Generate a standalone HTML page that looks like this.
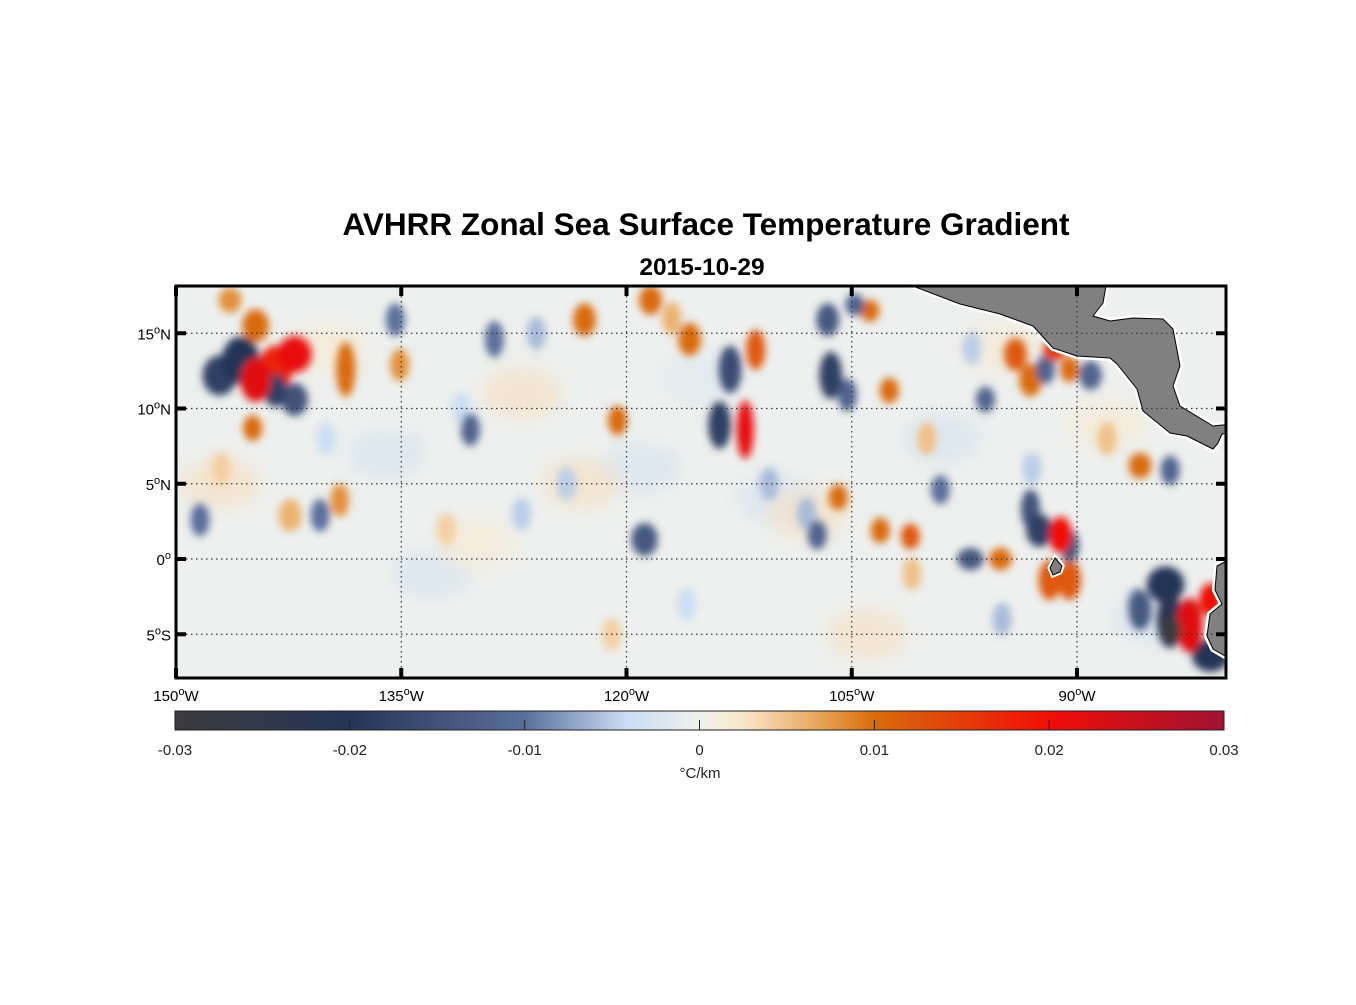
<!DOCTYPE html>
<html><head><meta charset="utf-8">
<style>
body{margin:0;background:#fff;}
svg text{font-family:"Liberation Sans",Arial,sans-serif;}
</style></head>
<body>
<svg id="fig" width="1356" height="1000" viewBox="0 0 1356 1000" xmlns="http://www.w3.org/2000/svg">
<defs>
<filter id="blur" x="-50%" y="-50%" width="200%" height="200%"><feGaussianBlur stdDeviation="4"/></filter>
<filter id="blur2" x="-50%" y="-50%" width="200%" height="200%"><feGaussianBlur stdDeviation="9"/></filter>
<clipPath id="mapclip"><rect x="176" y="286" width="1050" height="392"/></clipPath>
<linearGradient id="cbgrad" x1="0" x2="1" y1="0" y2="0">
<stop offset="0" stop-color="#3b3b3e"/>
<stop offset="0.1667" stop-color="#243556"/>
<stop offset="0.3333" stop-color="#5a6f9c"/>
<stop offset="0.43" stop-color="#c9ddf4"/>
<stop offset="0.5" stop-color="#eef1ec"/>
<stop offset="0.54" stop-color="#fbe7cc"/>
<stop offset="0.62" stop-color="#e5a050"/>
<stop offset="0.6667" stop-color="#d96b0c"/>
<stop offset="0.8333" stop-color="#f00e06"/>
<stop offset="1" stop-color="#a01232"/>
</linearGradient>
</defs>
<text x="706" y="235" text-anchor="middle" font-size="31.5" font-weight="bold">AVHRR Zonal Sea Surface Temperature Gradient</text>
<text x="702" y="275" text-anchor="middle" font-size="24.5" font-weight="bold">2015-10-29</text>
<g id="map" clip-path="url(#mapclip)">
<rect x="176" y="286" width="1050" height="392" fill="#edf0ee"/>
<g id="soft" filter="url(#blur2)"></g>
<g id="blobs" filter="url(#blur)"></g>
<g id="land">
<polygon fill="#808080" stroke="#fff" stroke-width="6" stroke-linejoin="round" points="897,280 1107,280 1103,303 1093,316 1110,321 1133,318 1163,319 1173,329 1180,366 1173,386 1180,406 1213,426 1232,424 1232,433 1222,434 1218,443 1213,449 1187,436 1170,433 1143,411 1137,389 1117,364 1110,358 1077,356 1053,348 1033,326 1000,314 960,304"/>
<polygon fill="#808080" stroke="#000" stroke-width="1" stroke-linejoin="round" points="897,280 1107,280 1103,303 1093,316 1110,321 1133,318 1163,319 1173,329 1180,366 1173,386 1180,406 1213,426 1232,424 1232,433 1222,434 1218,443 1213,449 1187,436 1170,433 1143,411 1137,389 1117,364 1110,358 1077,356 1053,348 1033,326 1000,314 960,304"/>
<polygon fill="#808080" stroke="#fff" stroke-width="6" stroke-linejoin="round" points="1232,558 1217,566 1215,590 1222,604 1210,614 1207,636 1213,649 1232,660"/>
<polygon fill="#808080" stroke="#000" stroke-width="1" points="1232,558 1217,566 1215,590 1222,604 1210,614 1207,636 1213,649 1232,660"/>
<polygon fill="#808080" stroke="#fff" stroke-width="5" points="1055,558 1062,566 1060,572 1053,575 1050,568"/>
<polygon fill="#808080" stroke="#000" stroke-width="1" points="1055,558 1062,566 1060,572 1053,575 1050,568"/>
</g>
<g id="grid" stroke="#333" stroke-width="1.2" stroke-dasharray="1.5,3.5"></g>
</g>
<rect x="176" y="286" width="1050" height="392" fill="none" stroke="#000" stroke-width="3"/>
<g id="ticks"></g>
<g id="colorbar">
<rect x="175" y="711" width="1049" height="19" fill="url(#cbgrad)" stroke="#222" stroke-width="1"/>
</g>
<text x="700" y="778" text-anchor="middle" font-size="15" fill="#222">°C/km</text>
</svg>
<script>
// Data: blobs [lon, lat, value(°C/km), halfWidthLon(deg), halfHeightLat(deg)]
const blobLon = [-144.7,-142.1,-143.4,-144.7,-145.7,-147.1,-143.4,-142.1,-138.7,-144.9,-146.4,
 -112.1,-113.8,-113.1,-111.4,-106.4,-106.6,-105.3,-115.8,-118.4,-122.8,-120.6,-128.8,-130.4,-118.8,-105.9,-101.1,-107.3,-103.1,-104.8,-103.8,-102.5,
 -93.1,-92.5,-91.1,-90.5,-91.8,-90.5,-84.1,-83.8,-83.7,-82.5,-81.1,-81.1,-85.8,-94.1,-93.1,-92.1,-90.5,-89.1,-96.1,-85.8,-83.8,-97.1,-95.1,-91.5,
 -148.4,-140.4,-139.1,-135.4,-135.1,-142.4,-99.1,
 -126,-117,-124,-110.5,-100,-97,-88,-86,-95,-131,-140,-147,-132,-127,-108,-101,-116,-121,-93];
const blobLat = [11.9,13.6,12.6,15.5,13.2,12.2,11.2,10.6,12.6,8.7,17.2,
 8.6,8.9,12.6,13.9,12.2,15.9,10.9,14.6,17.2,15.9,9.2,14.6,8.6,1.3,4.1,1.5,1.6,1.9,16.9,16.5,11.2,
 3.3,1.9,1.6,0.9,-1.4,-1.4,-1.7,-4.1,-4.7,-4.4,-2.7,-6.4,-3.4,13.6,11.9,12.6,12.6,12.2,10.6,6.2,5.9,0,0,13.9,
 2.6,2.9,3.9,15.9,12.9,2.9,4.6,
 15,16,5,5,8,14,8,-3,-4,10,8,6,2,3,3,-1,-3,-5,6];
const blobVal = [0.022,0.021,0.018,0.01,-0.02,-0.018,-0.018,-0.015,0.01,0.01,0.008,
 0.021,-0.018,-0.016,0.012,-0.018,-0.014,-0.012,0.01,0.01,0.01,0.01,-0.01,-0.012,-0.014,0.01,0.012,-0.012,0.01,-0.012,0.01,0.01,
 -0.015,-0.018,0.02,-0.015,0.012,0.012,-0.02,-0.022,-0.03,0.022,0.02,-0.02,-0.014,0.012,0.01,-0.012,0.01,-0.012,-0.012,0.01,-0.012,-0.014,0.01,0.015,
 -0.01,-0.01,0.008,-0.01,0.008,0.006,-0.01,
 -0.006,0.006,-0.005,-0.006,0.005,-0.005,0.005,-0.008,-0.006,-0.004,-0.004,0.004,0.004,-0.005,-0.006,0.005,-0.004,0.004,-0.005];
const blobW = [0.7,0.8,0.8,0.6,0.9,0.8,0.5,0.6,0.4,0.4,0.5,
 0.35,0.5,0.5,0.4,0.5,0.5,0.4,0.5,0.5,0.5,0.4,0.4,0.4,0.6,0.4,0.4,0.4,0.4,0.4,0.4,0.4,
 0.4,0.6,0.5,0.4,0.5,0.5,0.9,0.6,0.4,0.6,0.5,0.9,0.5,0.5,0.5,0.4,0.4,0.5,0.4,0.5,0.4,0.6,0.5,0.5,
 0.4,0.4,0.4,0.4,0.4,0.5,0.4,
 0.4,0.4,0.4,0.4,0.4,0.4,0.4,0.4,0.4,0.4,0.4,0.4,0.4,0.4,0.4,0.4,0.4,0.4,0.4];
const blobH = [1.1,0.9,1.2,0.8,1.2,1.0,0.8,0.8,1.4,0.6,0.6,
 1.5,1.2,1.2,1.0,1.2,0.8,0.8,0.8,0.7,0.8,0.7,0.9,0.8,0.8,0.6,0.6,0.7,0.6,0.5,0.5,0.6,
 1.0,0.8,0.9,0.8,1.0,1.0,0.9,1.4,0.6,1.4,0.8,0.8,1.0,0.8,0.8,0.7,0.6,0.7,0.6,0.6,0.7,0.5,0.5,0.5,
 0.8,0.8,0.8,0.8,0.8,0.8,0.7,
 0.8,0.8,0.8,0.8,0.8,0.8,0.8,0.8,0.8,0.8,0.8,0.8,0.8,0.8,0.8,0.8,0.8,0.8,0.8];
// soft background patches [lon, lat, value]
const softLon = [-147,-136,-127,-119,-123,-110,-99,-108,-133,-104,-85,-140,-115,-95,-130,-88];
const softLat = [5,7,11,6,5,4,8,3,-1,-5,-4,14,12,14,1,9];
const softVal = [0.003,-0.003,0.003,-0.003,0.003,-0.003,-0.003,0.003,-0.003,0.003,-0.003,0.002,-0.002,0.002,0.002,0.002];
const lonTicks = [-150,-135,-120,-105,-90];
const lonLabels = ["150","135","120","105","90"];
const latTicks = [15,10,5,0,-5];
const latLabels = ["15","10","5","0","5"];
const latHemi = ["N","N","N","",'S'];
const cbTicks = [-0.03,-0.02,-0.01,0,0.01,0.02,0.03];
const cbLabels = ["-0.03","-0.02","-0.01","0","0.01","0.02","0.03"];

const NS = 'http://www.w3.org/2000/svg';
function xOf(lon){ return 176 + (lon + 150) * 15.0167; }
function yOf(lat){ return 559 - lat * 15.05; }
function cbX(v){ return 175 + (v + 0.03) / 0.06 * 1049; }
const stops = [[-0.03,[59,59,62]],[-0.02,[36,53,86]],[-0.01,[90,111,156]],[-0.0042,[201,221,244]],[0,[238,241,236]],[0.0024,[251,231,204]],[0.0072,[229,160,80]],[0.01,[217,107,12]],[0.02,[240,14,6]],[0.03,[160,18,50]]];
function color(v){
  v = Math.max(-0.03, Math.min(0.03, v));
  for (let i=0;i<stops.length-1;i++){
    const a=stops[i], b=stops[i+1];
    if (v>=a[0] && v<=b[0]){
      const t=(v-a[0])/(b[0]-a[0]);
      const c=a[1].map((k,j)=>Math.round(k+(b[1][j]-k)*t));
      return 'rgb('+c.join(',')+')';
    }
  }
  return 'rgb(238,241,236)';
}
function mk(tag, attrs, parent){
  const e=document.createElementNS(NS,tag);
  for (const k in attrs) e.setAttribute(k, attrs[k]);
  parent.appendChild(e); return e;
}
const softG=document.getElementById('soft');
softLon.forEach((lon,i)=>{
  const e=mk('ellipse',{cx:xOf(lon),cy:yOf(softLat[i]),rx:40,ry:25,fill:color(softVal[i]),opacity:0.6},softG);
  
  
});
const blobsG=document.getElementById('blobs');
const order=blobLon.map((_,i)=>i).sort((a,b)=>Math.abs(blobVal[a])-Math.abs(blobVal[b]));
order.forEach(i=>{
  const e=mk('ellipse',{cx:xOf(blobLon[i]),cy:yOf(blobLat[i]),rx:blobW[i]*15.0167*1.25+2,ry:blobH[i]*15.05*1.2+2,fill:color(blobVal[i])},blobsG);
  
  
});
const grid=document.getElementById('grid');
lonTicks.forEach(l=>{ const x=xOf(l); mk('line',{x1:x,x2:x,y1:286,y2:678},grid); });
latTicks.forEach(l=>{ const y=yOf(l); mk('line',{x1:176,x2:1226,y1:y,y2:y},grid); });
const ticks=document.getElementById('ticks');
lonTicks.forEach((l,i)=>{
  const x=xOf(l);
  mk('line',{x1:x,x2:x,y1:286,y2:296,stroke:'#000','stroke-width':4},ticks);
  mk('line',{x1:x,x2:x,y1:668,y2:678,stroke:'#000','stroke-width':4},ticks);
  const t=mk('text',{x:x,y:701,'text-anchor':'middle','font-size':15},ticks);
  
  
  t.innerHTML=lonLabels[i]+'<tspan dy="-6" font-size="11">o</tspan><tspan dy="6">W</tspan>';
});
latTicks.forEach((l,i)=>{
  const y=yOf(l);
  mk('line',{x1:176,x2:186,y1:y,y2:y,stroke:'#000','stroke-width':4},ticks);
  mk('line',{x1:1216,x2:1226,y1:y,y2:y,stroke:'#000','stroke-width':4},ticks);
  const t=mk('text',{x:171,y:y+6,'text-anchor':'end','font-size':15},ticks);
  
  
  t.innerHTML=latLabels[i]+'<tspan dy="-6" font-size="11">o</tspan><tspan dy="6">'+latHemi[i]+'</tspan>';
});
const cb=document.getElementById('colorbar');
cbTicks.forEach((v,i)=>{
  const x=cbX(v);
  if(i>0&&i<cbTicks.length-1) mk('line',{x1:x,x2:x,y1:720,y2:730,stroke:'#222','stroke-width':1},cb);
  const t=mk('text',{x:x,y:755,'text-anchor':'middle','font-size':15,fill:'#222'},cb);
  
  
  t.textContent=cbLabels[i];
});
</script>
</body></html>
